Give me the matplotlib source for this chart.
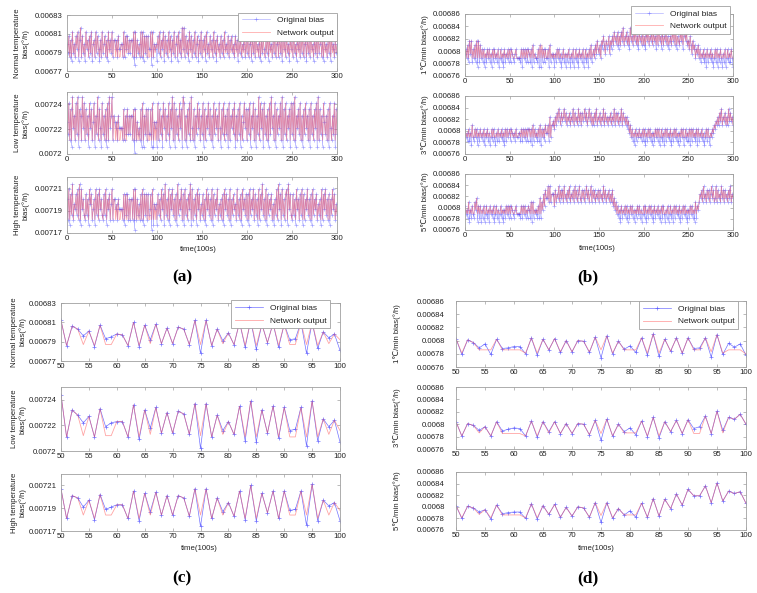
import numpy as np
import matplotlib
matplotlib.use("Agg")
import matplotlib.pyplot as plt
from matplotlib.ticker import FuncFormatter

plt.rcParams['font.family'] = ['Liberation Sans', 'DejaVu Sans']

# ---------------------------------------------------------------
# (a)/(b): 301 samples, t = 0..300.  Each digit is the level read
# off the plot; value = base + level * step (per panel, below).
# ---------------------------------------------------------------
T_LONG = list(range(0, 301))

A1_LEVEL = (0.006776, 0.0000045)
A1_BIAS = ("5372618352" "7481692735" "1846273815" "6283741628" "3572618463"
           "8266462744" "5528274736" "3662808263" "5282817372" "7448082545"
           "1738264817" "3628471638" "2571836294" "9273618472" "6382571638"
           "2647183527" "4628361745" "2736284537" "2647352746" "1637254826"
           "3725617362" "8452716374" "2638174526" "3725628361" "7462835174"
           "6283517462" "7382561736" "2845173628" "3572617452" "6381745263" "5")
A1_NET = ("5372628352" "7482692735" "2846273825" "6283742628" "3572628363"
          "8266262722" "5528273736" "3662828263" "5282827372" "7228282535"
          "4738264827" "3628372638" "2572836293" "9273628372" "6382572638"
          "2637283527" "3628362735" "2736283537" "2637352736" "2637253826"
          "3725627362" "8352726373" "2638273526" "3725628362" "7362835273"
          "6283527362" "7382562736" "2835273628" "3572627352" "6382735263" "5")

A2_LEVEL = (0.007201, 0.000005)
A2_BIAS = ("5382719462" "8391762948" "2736184725" "8163927418" "3627182946"
           "9265452644" "4427263736" "3662707253" "4271816372" "7337181545"
           "1827361847" "2638174928" "1736284719" "8261738294" "2716384726"
           "3817264837" "2618374628" "4173826371" "8264738162" "7381625847"
           "2738164827" "1639284718" "3627183946" "2817364829" "1738264718"
           "3829164738" "2617384627" "1836274819" "2736185362" "7184263817" "3")
A2_NET = ("5382729462" "8392762948" "2736284725" "8263927428" "3627282946"
          "9265252622" "4427262736" "3662727252" "4272826372" "7227282525"
          "2827362847" "2638274928" "2736284729" "8262738294" "2726384726"
          "3827264837" "2628374628" "4273826372" "8264738262" "7382625847"
          "2738264827" "2639284728" "3627283946" "2827364829" "2738264728"
          "3829264738" "2627384627" "2836274829" "2736285362" "7284263827" "3")

A3_LEVEL = (0.007173, 0.0000045)
A3_BIAS = ("6281739254" "7382918463" "2736185724" "6183728463" "2738164725"
           "8266452644" "4427173726" "2662808263" "5272817372" "7347081545"
           "1736284719" "3628174836" "2719364827" "1836274918" "2637184725"
           "3726184736" "2817364825" "3627184736" "2816374528" "3627184637"
           "2718364827" "3618274936" "2817364725" "1638294718" "3627819473"
           "2736184627" "3817264836" "2718364725" "3618274836" "2716384725" "3")
A3_NET = ("6282739254" "7382928463" "2736285724" "6283728463" "2738264725"
          "8266252622" "4427272726" "2662828262" "5272827372" "7227282525"
          "2736284729" "3628274836" "2729364827" "2836274928" "2637284725"
          "3726284736" "2827364825" "3627284736" "2826374528" "3627284637"
          "2728364827" "3628274936" "2827364725" "2638294728" "3627829473"
          "2736284627" "3827264836" "2728364725" "3628274836" "2726384725" "3")

B_LEVEL = (0.006775, 0.000007)
B1_BIAS = ("3425163614" "2516061524" "1403142413" "0414231402" "4130413241"
           "4143213422" "2214042414" "1431405132" "2140504141" "4224051323"
           "0314241302" "4130314203" "1402413042" "3140241304" "2513425364"
           "3526475364" "5736475867" "5847586957" "6857496758" "6957486758"
           "5748695768" "5867485967" "4857685746" "7586958476" "5868479685"
           "6475364524" "3524132413" "0413241302" "4140314203" "1402413142" "0")
B1_NET = ("3425263624" "2526262524" "2423242423" "2424232422" "4232423242"
          "4243223422" "2224242424" "2432425232" "2242525242" "4224252323"
          "2324242322" "4232324223" "2422423242" "3242242324" "2523425364"
          "3526575365" "5736575867" "5857586957" "6857596758" "6957586758"
          "5758695768" "5867585967" "5857685756" "7586958576" "5868579685"
          "6475364524" "3524232423" "2423242322" "4242324223" "2422423242" "2")

B2_BIAS = ("4231413052" "1424031423" "1403241302" "4142031413" "2413041423"
           "4143231422" "3314142414" "1441405142" "3141504241" "5335172556"
           "4758697586" "7968576857" "6958675968" "5867968579" "6857586957"
           "6857695867" "5768576958" "6857695867" "5746352413" "0413242314"
           "1403142413" "0314241402" "4130414231" "4031424130" "3142402413"
           "1404142314" "0413241302" "4142032435" "4657586957" "6857596867" "5")
B2_NET = ("4232423252" "2424232423" "2423242322" "4242232423" "2423242423"
          "4243232422" "3324242424" "2442425242" "3242524242" "5335272556"
          "4758697586" "7968576857" "6958675968" "5867968579" "6857586957"
          "6857695867" "5768576958" "6857695867" "5756352423" "2423242324"
          "2423242423" "2324242422" "4232424232" "4232424232" "3242422423"
          "2424242324" "2423242322" "4242232435" "4657586957" "6857596867" "5")

B3_BIAS = ("4231503142" "1536041403" "1402413042" "3140241302" "4130314241"
           "4143213422" "2214142413" "1431505132" "3141615374" "8669595777"
           "4857695868" "5967586957" "6859685796" "5868579685" "7958685768"
           "5867596857" "6857584635" "2413041324" "1403142413" "0314241302"
           "4140314241" "3041324130" "4142031402" "4130414231" "4031424130"
           "3142413051" "4357685967" "5868579685" "6958675968" "5867586957" "6")
B3_NET = ("4232523242" "2536242423" "2422423242" "3242242322" "4232324242"
          "4243223422" "2224242423" "2432525232" "3242625374" "8669595777"
          "4857695868" "5967586957" "6859685796" "5868579685" "7958685768"
          "5867596857" "6857584635" "2423242324" "2423242423" "2324242322"
          "4242324242" "3242324232" "4242232422" "4232424232" "4232424232"
          "3242423252" "4357685967" "5868579685" "6958675968" "5867586957" "6")

# ---------------------------------------------------------------
# (c)/(d): zoom on t = 50..100, values in 1e-6 deg/h
# ---------------------------------------------------------------
T_SHORT = list(range(50, 101))

C1_BIAS = [6812, 6786, 6806, 6803, 6796, 6801, 6785, 6807, 6793, 6795,
           6798, 6797, 6786, 6810, 6785, 6807, 6792, 6808, 6788, 6804,
           6788, 6805, 6803, 6787, 6812, 6778, 6812, 6786, 6803, 6791,
           6799, 6787, 6810, 6784, 6812, 6782, 6808, 6789, 6809, 6784,
           6808, 6792, 6793, 6810, 6778, 6810, 6783, 6800, 6794, 6798, 6781]
C1_NET = [6812, 6786, 6806, 6803, 6787, 6801, 6786, 6807, 6787, 6787,
          6798, 6797, 6786, 6810, 6786, 6807, 6788, 6808, 6788, 6804,
          6788, 6805, 6803, 6787, 6812, 6787, 6812, 6786, 6803, 6788,
          6799, 6787, 6810, 6786, 6812, 6786, 6808, 6789, 6809, 6786,
          6808, 6787, 6787, 6810, 6787, 6810, 6786, 6800, 6788, 6798, 6792]

C2_BIAS = [7244, 7211, 7232, 7228, 7222, 7227, 7211, 7233, 7219, 7222,
           7223, 7223, 7211, 7236, 7209, 7232, 7218, 7234, 7214, 7230,
           7214, 7231, 7229, 7213, 7237, 7202, 7237, 7211, 7228, 7216,
           7223, 7213, 7235, 7208, 7239, 7207, 7232, 7214, 7235, 7210,
           7234, 7216, 7217, 7234, 7204, 7239, 7208, 7225, 7219, 7224, 7207]
C2_NET = [7244, 7211, 7232, 7228, 7212, 7227, 7211, 7233, 7212, 7212,
          7223, 7223, 7211, 7236, 7211, 7232, 7213, 7234, 7214, 7230,
          7214, 7231, 7229, 7213, 7237, 7212, 7237, 7211, 7228, 7213,
          7223, 7213, 7235, 7211, 7239, 7211, 7232, 7214, 7235, 7211,
          7234, 7211, 7211, 7234, 7211, 7239, 7211, 7225, 7213, 7224, 7216]

C3_BIAS = [7207, 7181, 7201, 7199, 7191, 7197, 7180, 7202, 7189, 7191,
           7193, 7193, 7181, 7205, 7179, 7203, 7187, 7204, 7184, 7201,
           7184, 7201, 7199, 7183, 7207, 7174, 7207, 7181, 7199, 7187,
           7195, 7183, 7205, 7180, 7210, 7179, 7203, 7186, 7205, 7181,
           7205, 7188, 7189, 7205, 7175, 7211, 7179, 7197, 7192, 7195, 7179]
C3_NET = [7207, 7181, 7201, 7199, 7184, 7197, 7181, 7202, 7184, 7184,
          7193, 7193, 7181, 7205, 7181, 7203, 7184, 7204, 7184, 7201,
          7184, 7201, 7199, 7183, 7207, 7184, 7207, 7181, 7199, 7184,
          7195, 7183, 7205, 7181, 7210, 7181, 7203, 7186, 7205, 7181,
          7205, 7184, 7184, 7205, 7184, 7211, 7181, 7197, 7184, 7195, 7188]

D1_BIAS = [6803, 6779, 6801, 6797, 6789, 6795, 6779, 6802, 6788, 6789,
           6791, 6791, 6780, 6804, 6778, 6802, 6786, 6803, 6782, 6800,
           6783, 6800, 6799, 6782, 6805, 6774, 6807, 6780, 6799, 6787,
           6792, 6782, 6804, 6778, 6810, 6776, 6802, 6784, 6804, 6781,
           6804, 6788, 6789, 6804, 6775, 6809, 6779, 6796, 6790, 6795, 6778]
D1_NET = [6803, 6781, 6801, 6797, 6786, 6786, 6786, 6802, 6786, 6786,
          6786, 6786, 6781, 6804, 6781, 6802, 6786, 6803, 6783, 6800,
          6783, 6800, 6799, 6783, 6805, 6786, 6807, 6781, 6799, 6786,
          6786, 6786, 6804, 6781, 6810, 6781, 6802, 6784, 6804, 6781,
          6804, 6786, 6786, 6804, 6783, 6809, 6781, 6786, 6786, 6786, 6780]

D2_BIAS = [6804, 6781, 6801, 6798, 6790, 6796, 6781, 6804, 6789, 6792,
           6794, 6793, 6781, 6805, 6779, 6804, 6788, 6804, 6785, 6801,
           6785, 6801, 6800, 6783, 6806, 6774, 6808, 6781, 6800, 6788,
           6794, 6783, 6805, 6780, 6811, 6778, 6804, 6788, 6806, 6785,
           6807, 6793, 6796, 6813, 6785, 6821, 6790, 6811, 6808, 6816, 6800]
D2_NET = [6804, 6781, 6801, 6798, 6786, 6796, 6781, 6804, 6785, 6785,
          6785, 6785, 6781, 6805, 6781, 6804, 6786, 6804, 6785, 6801,
          6785, 6801, 6800, 6783, 6806, 6785, 6808, 6781, 6800, 6786,
          6786, 6786, 6805, 6781, 6811, 6781, 6804, 6788, 6806, 6785,
          6807, 6785, 6785, 6813, 6785, 6821, 6786, 6811, 6808, 6816, 6800]

D3_BIAS = [6802, 6780, 6801, 6798, 6791, 6795, 6779, 6803, 6788, 6790,
           6791, 6791, 6780, 6805, 6779, 6802, 6787, 6804, 6782, 6799,
           6784, 6800, 6798, 6782, 6807, 6773, 6807, 6780, 6797, 6786,
           6793, 6782, 6806, 6782, 6814, 6784, 6813, 6797, 6822, 6803,
           6830, 6819, 6819, 6836, 6807, 6841, 6810, 6827, 6823, 6826, 6806]
D3_NET = [6802, 6781, 6801, 6798, 6787, 6795, 6781, 6803, 6786, 6786,
          6786, 6786, 6781, 6805, 6781, 6802, 6787, 6804, 6782, 6799,
          6784, 6800, 6798, 6782, 6807, 6785, 6807, 6781, 6797, 6786,
          6786, 6786, 6806, 6782, 6814, 6784, 6813, 6797, 6822, 6803,
          6830, 6819, 6819, 6836, 6807, 6841, 6810, 6827, 6823, 6826, 6806]

YLAB_TEMP = ["Normal temperature\nbias(°/h)", "Low temperature\nbias(°/h)",
             "High temperature\nbias(°/h)"]
YLAB_RATE = ["1℃/min bias(°/h)", "3℃/min bias(°/h)", "5℃/min bias(°/h)"]

BLUE = '#5050ff'
RED = '#ff5a5a'
GRAY = '#a0a0a0'
TXT = '#222222'
W, H = 757, 593


def from_levels(s, lv):
    base, step = lv
    return np.array([base + int(c) * step for c in s])


def micro(vals):
    return np.array(vals) * 1e-6


def ytick_fmt(v, pos):
    return ('%.5f' % v).rstrip('0')


def panel(fig, box, x, bias, net, ylim, yticks, xticks, ylabel, ylab_x,
          ypad, dense, leg_anchor=None):
    x0, y0, x1, y1 = box
    ax = fig.add_axes([x0 / W, 1 - y1 / H, (x1 - x0) / W, (y1 - y0) / H])
    if dense:
        ax.plot(x, bias, color=BLUE, lw=0.4, alpha=0.55, marker='+', ms=3,
                mew=0.45, label='Original bias')
        ax.plot(x, net, color=RED, lw=0.6, alpha=0.5, label='Network output')
    else:
        ax.plot(x, bias, color=BLUE, lw=0.5, alpha=0.8, marker='+', ms=3,
                mew=0.5, label='Original bias')
        ax.plot(x, net, color=RED, lw=0.6, alpha=0.55, label='Network output')
    ax.set_xlim(x[0], x[-1])
    ax.set_ylim(*ylim)
    ax.set_xticks(xticks)
    ax.set_yticks(yticks)
    ax.yaxis.set_major_formatter(FuncFormatter(ytick_fmt))
    ax.tick_params(direction='in', top=True, right=True, length=2.5,
                   width=0.4, color='#888888', labelsize=5.6,
                   labelcolor=TXT)
    ax.tick_params(axis='y', pad=ypad)
    ax.tick_params(axis='x', pad=1.5)
    for sp in ax.spines.values():
        sp.set_color(GRAY)
        sp.set_linewidth(0.6)
    ax.set_ylabel(ylabel, fontsize=5.6, color=TXT, linespacing=1.1)
    ax.yaxis.set_label_coords(ylab_x, 0.5)
    if leg_anchor is not None:
        leg = ax.legend(loc='upper right', bbox_to_anchor=leg_anchor,
                        fontsize=6.0, fancybox=False, framealpha=1,
                        edgecolor=GRAY, borderaxespad=0, borderpad=0.45,
                        handlelength=3.4, handletextpad=0.8,
                        labelspacing=0.6)
        leg.get_frame().set_linewidth(0.6)
        for t in leg.get_texts():
            t.set_color(TXT)
    return ax


fig = plt.figure(figsize=(W / 100, H / 100), dpi=100)

temp_ylims = [(0.00677, 0.00683), (0.0072, 0.00725), (0.00717, 0.00722)]
temp_yticks = [[0.00677, 0.00679, 0.00681, 0.00683],
               [0.0072, 0.00722, 0.00724],
               [0.00717, 0.00719, 0.00721]]
rate_ylim = (0.00676, 0.00686)
rate_yticks = [0.00676, 0.00678, 0.0068, 0.00682, 0.00684, 0.00686]

a_rows = [(15, 71), (92, 154), (177, 233)]
b_rows = [(14, 76), (96, 154), (174, 230)]
c_rows = [(303, 361), (387, 451), (474, 531)]
d_rows = [(301, 367), (387, 449), (472, 530)]

a_data = [(A1_BIAS, A1_NET, A1_LEVEL), (A2_BIAS, A2_NET, A2_LEVEL),
          (A3_BIAS, A3_NET, A3_LEVEL)]
b_data = [(B1_BIAS, B1_NET), (B2_BIAS, B2_NET), (B3_BIAS, B3_NET)]
c_data = [(C1_BIAS, C1_NET), (C2_BIAS, C2_NET), (C3_BIAS, C3_NET)]
d_data = [(D1_BIAS, D1_NET), (D2_BIAS, D2_NET), (D3_BIAS, D3_NET)]

long_ticks = list(range(0, 301, 50))
short_ticks = list(range(50, 101, 5))

for i in range(3):
    bias_s, net_s, lv = a_data[i]
    assert len(bias_s) == 301 and len(net_s) == 301, ('a', i)
    panel(fig, (67, a_rows[i][0], 337, a_rows[i][1]), T_LONG,
          from_levels(bias_s, lv), from_levels(net_s, lv),
          temp_ylims[i], temp_yticks[i], long_ticks, YLAB_TEMP[i], -0.138, 3,
          True, (1.0, 1.04) if i == 0 else None)

    bias_s, net_s = b_data[i]
    assert len(bias_s) == 301 and len(net_s) == 301, ('b', i)
    panel(fig, (465, b_rows[i][0], 733, b_rows[i][1]), T_LONG,
          from_levels(bias_s, B_LEVEL), from_levels(net_s, B_LEVEL),
          rate_ylim, rate_yticks, long_ticks, YLAB_RATE[i], -0.135, 3,
          True, (0.99, 1.13) if i == 0 else None)

    bias_v, net_v = c_data[i]
    panel(fig, (61, c_rows[i][0], 340, c_rows[i][1]), T_SHORT,
          micro(bias_v), micro(net_v),
          temp_ylims[i], temp_yticks[i], short_ticks, YLAB_TEMP[i], -0.125, 3,
          False, (0.965, 1.05) if i == 0 else None)

    bias_v, net_v = d_data[i]
    panel(fig, (456, d_rows[i][0], 746, d_rows[i][1]), T_SHORT,
          micro(bias_v), micro(net_v),
          rate_ylim, rate_yticks, short_ticks, YLAB_RATE[i], -0.19, 8,
          False, (0.972, 1.0) if i == 0 else None)

for xc, yc in [(198, 250), (597, 248), (199, 549), (596, 549)]:
    fig.text(xc / W, 1 - yc / H, 'time(100s)', fontsize=5.6, color=TXT,
             ha='center', va='center')

for lab, xc, yc in [('(a)', 182, 277), ('(b)', 588, 277),
                    ('(c)', 182, 578), ('(d)', 588, 578)]:
    fig.text(xc / W, 1 - yc / H, lab, fontsize=12.5, fontweight='bold',
             family='Liberation Serif', ha='center', va='center')

fig.savefig('out.png', dpi=100)
